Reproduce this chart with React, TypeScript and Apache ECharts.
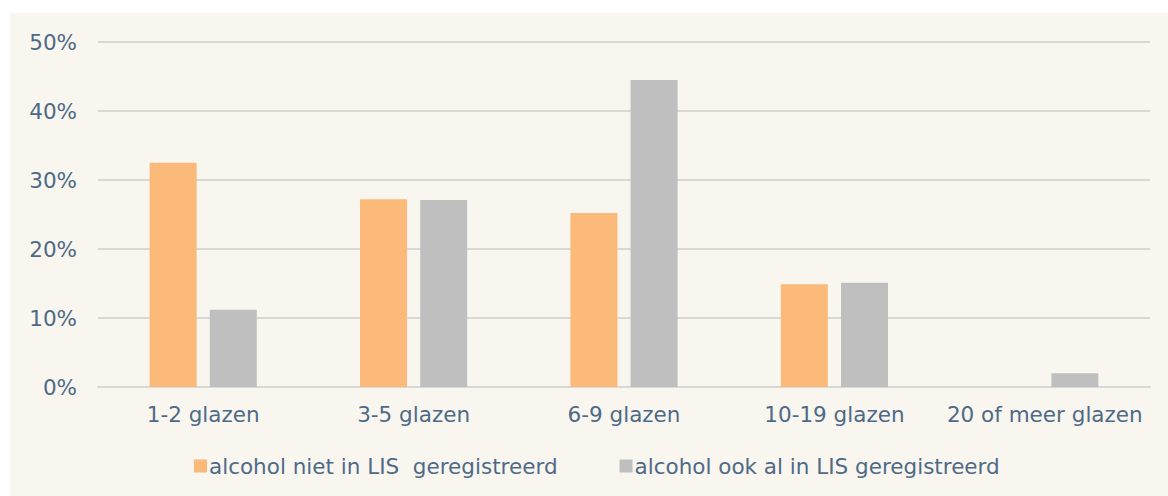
import React, { useEffect, useRef } from "react";
import * as echarts from "echarts";

const categories = ["1-2 glazen", "3-5 glazen", "6-9 glazen", "10-19 glazen", "20 of meer glazen"];
const seriesNames = ["alcohol niet in LIS  geregistreerd", "alcohol ook al in LIS geregistreerd"];
const nietInLis = [32.5, 27.2, 25.2, 14.9, 0];
const ookInLis = [11.2, 27.1, 44.5, 15.1, 2.0];
const yTicks = [0, 10, 20, 30, 40, 50];

const TEXT = "#4e6a86";
const FONT = "DejaVu Sans, Verdana, sans-serif";
const FS = 21.5;

export default function App() {
  const ref = useRef<HTMLDivElement>(null);
  useEffect(() => {
    const chart = echarts.init(ref.current!, null, { renderer: "svg" });
    chart.setOption({
      animation: false,
      backgroundColor: "#f9f6f0",
      textStyle: { fontFamily: FONT },
      grid: { left: 88, right: 18, top: 29, bottom: 109 },
      legend: {
        left: 179,
        top: 437,
        itemWidth: 13,
        itemHeight: 13,
        itemGap: 62,
        icon: "rect",
        textStyle: { color: TEXT, fontSize: FS, fontFamily: FONT, padding: [0, 0, 0, -3] },
        data: seriesNames,
      },
      xAxis: {
        type: "category",
        data: categories,
        axisTick: { show: false },
        axisLine: { lineStyle: { color: "#dad8d4", width: 2 } },
        axisLabel: { color: TEXT, fontSize: FS, margin: 16, interval: 0, fontFamily: FONT },
      },
      yAxis: {
        type: "value",
        min: yTicks[0],
        max: yTicks[yTicks.length - 1],
        interval: 10,
        axisLine: { show: false },
        axisTick: { show: false },
        splitLine: { lineStyle: { color: "#dad8d4", width: 2 } },
        axisLabel: { color: TEXT, fontSize: FS, margin: 21, fontFamily: FONT, formatter: "{value}%" },
      },
      series: [
        {
          name: seriesNames[0],
          type: "bar",
          data: nietInLis,
          barWidth: 47,
          barGap: "28%",
          itemStyle: { color: "#fbb97a" },
        },
        {
          name: seriesNames[1],
          type: "bar",
          data: ookInLis,
          barWidth: 47,
          barGap: "28%",
          itemStyle: { color: "#bfbfbf" },
        },
      ],
    });
    return () => chart.dispose();
  }, []);
  return (
    <div style={{ position: "fixed", left: 0, top: 0, width: 1168, height: 496, background: "#ffffff" }}>
      <div ref={ref} style={{ position: "absolute", left: 10, top: 13, width: 1158, height: 483 }} />
    </div>
  );
}
